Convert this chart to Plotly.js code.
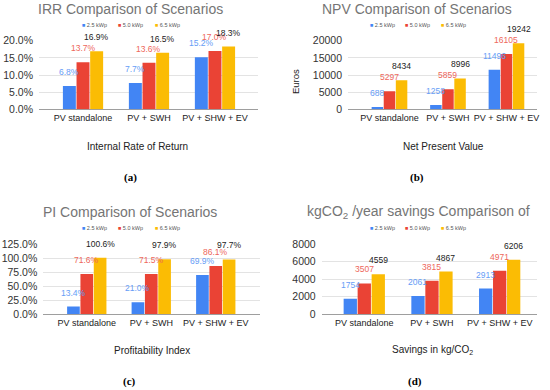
<!DOCTYPE html>
<html><head><meta charset="utf-8">
<script src="https://cdn.plot.ly/plotly-3.0.1.min.js"></script>
<style>html,body{margin:0;padding:0;background:#fff}</style>
</head><body><div id="chart" style="width:550px;height:390px"></div>
<script>
// ---- data ----
const categories = ["PV standalone", "PV + SWH", "PV + SHW + EV"];
const seriesNames = ["2.5 kWp", "5.0 kWp", "6.5 kWp"];

const irr_25 = [6.8, 7.7, 15.2];
const irr_50 = [13.7, 13.6, 17.0];
const irr_65 = [16.9, 16.5, 18.3];

const npv_25 = [688, 1258, 11496];
const npv_50 = [5297, 5859, 16105];
const npv_65 = [8434, 8996, 19242];

const pi_25 = [13.4, 21.0, 69.9];
const pi_50 = [71.6, 71.5, 86.1];
const pi_65 = [100.6, 97.9, 97.7];

const co2_25 = [1754, 2061, 2913];
const co2_50 = [3507, 3815, 4971];
const co2_65 = [4559, 4867, 6206];

const irrTicks = [0, 5, 10, 15, 20];
const npvTicks = [0, 5000, 10000, 15000, 20000];
const piTicks = [0, 25, 50, 75, 100, 125];
const co2Ticks = [0, 2000, 4000, 6000, 8000];

// ---- style ----
const W = 550, H = 390;
const barColors = ['#4285F4', '#EA4335', '#FBBC04'];
const labelColors = ['#669DF6', '#EE675C', '#222222'];
const BARGAP = 0.38, GROUPGAP = 0.05;
const FONT = '"Liberation Sans", Arial, sans-serif';
const px = x => x / W;
const py = y => 1 - y / H;

const panels = [
  {key:'', series:[irr_25, irr_50, irr_65], ticks:irrTicks, pct:true,
   xdom:[39,258], ydom:[40.7,109.3], xr:[-0.667,2.652],
   title:'IRR Comparison of Scenarios', tx:130, ty:9,
   xt:'Internal Rate of Return', xtx:137, xty:146,
   tag:'(a)', tagx:130, tagy:178, legx:[80,116,153], legy:25},
  {key:'2', series:[npv_25, npv_50, npv_65], ticks:npvTicks, pct:false,
   xdom:[348,537], ydom:[40.7,109.3], xr:[-0.709,2.522],
   title:'NPV Comparison of Scenarios', tx:417, ty:9,
   xt:'Net Present Value', xtx:443, xty:146,
   tag:'(b)', tagx:417, tagy:178, legx:[367.7,403,439], legy:25, ytitle:'Euros'},
  {key:'3', series:[pi_25, pi_50, pi_65], ticks:piTicks, pct:true,
   xdom:[43.3,260], ydom:[244.2,314], xr:[-0.674,2.686],
   title:'PI Comparison of Scenarios', tx:130, ty:212,
   xt:'Profitability Index', xtx:151.7, xty:350,
   tag:'(c)', tagx:129, tagy:381, legx:[80,116,152.7], legy:228.3},
  {key:'4', series:[co2_25, co2_50, co2_65], ticks:co2Ticks, pct:false,
   xdom:[321.7,536.7], ydom:[244.2,314], xr:[-0.629,2.547],
   title:'kgCO<sub>2</sub> /year savings Comparison of', tx:418, ty:212,
   xt:'Savings in kg/CO<sub>2</sub>', xtx:432, xty:350,
   tag:'(d)', tagx:415, tagy:381, legx:[367.7,403.3,439], legy:228.3}
];

const data = [];
const annotations = [];
const layout = {
  width: W, height: H, margin:{l:0,r:0,t:0,b:0},
  paper_bgcolor:'#fff', plot_bgcolor:'#fff',
  barmode:'group', bargap:BARGAP, bargroupgap:GROUPGAP,
  showlegend:false, font:{family:FONT, color:'#222'},
  annotations: annotations
};

const slot = (1 - BARGAP) / 3;
const fmt = (v, pct) => pct ? v.toFixed(1) + '%' : String(v);

panels.forEach(p => {
  const xa = 'x' + p.key, ya = 'y' + p.key;
  p.series.forEach((vals, i) => {
    data.push({
      type:'bar', x:categories, y:vals, name:seriesNames[i],
      xaxis:xa, yaxis:ya, marker:{color:barColors[i], line:{width:0}},
      hoverinfo:'skip'
    });
    vals.forEach((v, j) => {
      annotations.push({
        xref:xa, yref:ya, x:j + (i - 1) * slot, y:v,
        text: fmt(v, p.pct),
        showarrow:false, yanchor:'middle', yshift:14,
        font:{size:8.5, color:labelColors[i], family:FONT}
      });
    });
  });
  layout['xaxis' + p.key] = {
    domain:[px(p.xdom[0]), px(p.xdom[1])], anchor:ya, type:'category',
    range:p.xr, showgrid:false, zeroline:false, showline:false, ticks:'',
    tickfont:{size:9, color:'#222', family:FONT}, ticklabelstandoff:2,
    fixedrange:true
  };
  layout['yaxis' + p.key] = {
    domain:[py(p.ydom[1]), py(p.ydom[0])], anchor:xa,
    range:[0, p.ticks[p.ticks.length - 1]], tickmode:'array', tickvals:p.ticks,
    ticktext:p.ticks.map(t => fmt(t, p.pct)),
    showgrid:true, gridcolor:'#e3e3e3', gridwidth:1,
    zeroline:true, zerolinecolor:'#9e9e9e', zerolinewidth:1,
    showline:false, ticks:'', ticklabelstandoff:5,
    tickfont:{size:10.5, color:'#333', family:FONT}, fixedrange:true
  };
  // chart title
  annotations.push({xref:'paper', yref:'paper', x:px(p.tx), y:py(p.ty),
    text:p.title, showarrow:false, xanchor:'center', yanchor:'middle',
    font:{size:14, color:'#757575', family:FONT}});
  // x-axis title
  annotations.push({xref:'paper', yref:'paper', x:px(p.xtx), y:py(p.xty),
    text:p.xt, showarrow:false, xanchor:'center', yanchor:'middle',
    font:{size:10, color:'#222', family:FONT}});
  // panel tag
  annotations.push({xref:'paper', yref:'paper', x:px(p.tagx), y:py(p.tagy),
    text:p.tag, showarrow:false, xanchor:'center', yanchor:'middle',
    font:{size:11, color:'#000', family:'"Liberation Serif", "DejaVu Serif", serif', weight:'bold'}});
  // legend
  seriesNames.forEach((n, i) => {
    annotations.push({xref:'paper', yref:'paper', x:px(p.legx[i]), y:py(p.legy),
      text:'<span style="color:' + barColors[i] + '">■</span> ' + n,
      showarrow:false, xanchor:'left', yanchor:'middle',
      font:{size:5.5, color:'#555', family:FONT}});
  });
  if (p.ytitle) {
    annotations.push({xref:'paper', yref:'paper', x:px(295), y:py(82),
      text:p.ytitle, textangle:-90, showarrow:false, xanchor:'center', yanchor:'middle',
      font:{size:9.5, color:'#222', family:FONT}});
  }
});

Plotly.newPlot('chart', data, layout, {staticPlot:true, displayModeBar:false});
</script>
</body></html>
